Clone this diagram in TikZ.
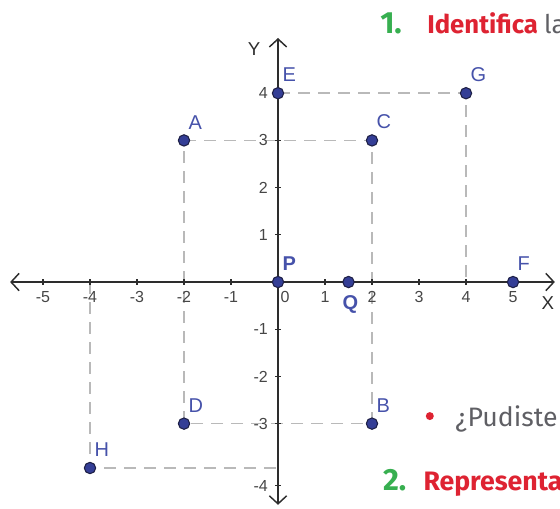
\documentclass[tikz,border=0pt]{standalone}
\usepackage{fontspec}
\setmainfont{Liberation Sans}
\newfontfamily\firafont{Fira Sans}
\usetikzlibrary{arrows.meta, positioning, backgrounds}
\definecolor{ptBlue}{RGB}{52,62,150}
\definecolor{ptEdge}{RGB}{30,32,70}
\definecolor{lblBlue}{RGB}{70,82,170}
\definecolor{guideGrey}{RGB}{185,185,185}
\definecolor{axisGrey}{RGB}{45,45,45}
\definecolor{tickGrey}{RGB}{70,70,70}
\definecolor{taskRed}{RGB}{222,35,50}
\definecolor{taskGreen}{RGB}{55,175,80}
\definecolor{askGrey}{RGB}{95,95,100}

\begin{document}
\begin{tikzpicture}[x=35.25pt, y=35.4pt,
    dot/.style={circle, draw=ptEdge, fill=ptBlue, line width=0.8pt, inner sep=0pt, minimum size=8.5pt},
    lbl/.style={text=lblBlue, inner sep=0pt, font=\fontsize{15}{15}\selectfont},
    tag/.style={label={[lbl, yshift=5pt]above right:#1}},
    guide/.style={draw=guideGrey, line width=1.2pt, dash pattern=on 9pt off 6pt},
    axis/.style={draw=axisGrey, line width=1.1pt,
      {Straight Barb[length=6pt,width=13pt]}-{Straight Barb[length=6pt,width=13pt]}},
    num/.style={text=tickGrey, inner sep=0pt, font=\fontsize{12}{12}\selectfont},
    task/.style={inner sep=0pt, anchor=base west, font=\firafont\fontsize{20}{20}\selectfont}]
    \path[use as bounding box, clip] (-5.915,-4.788) rectangle (6.0,5.975);
    % axes
    \coordinate (xl) at (-5.70,0);
    \coordinate (xr) at (5.89,0);
    \coordinate (yb) at (0,-4.72);
    \coordinate (yt) at (0,5.17);
    \draw[axis] (xl) -- (xr);
    \draw[axis] (yb) -- (yt);
    \foreach \x in {-5,-4,-3,-2,-1,1,2,3,4,5}{
      \draw[axisGrey, line width=0.8pt] (\x,0) ++(0,-2pt) -- ++(0,4pt);
      \node[num, below] (nx\x) at (\x,-0.2) {\x};
    }
    \node[num, below] (nx0) at (0.15,-0.2) {0};
    \foreach \y in {-3,-2,-1,1,2,3,4}{
      \draw[axisGrey, line width=0.8pt] (0,\y) ++(-2pt,0) -- ++(4pt,0);
      \node[num, left] (ny\y) at (-0.21,\y) {\y};
    }
    \draw[axisGrey, line width=0.8pt] (0,-4.32) ++(-2pt,0) -- ++(4pt,0);
    \node[num, left] (ny-4) at (-0.21,-4.32) {-4};
    \node[text=axisGrey, inner sep=0pt, font=\fontsize{14}{14}\selectfont] (ylab) at (-0.51,4.94) {Y};
    \node[text=axisGrey, inner sep=0pt, font=\fontsize{14}{14}\selectfont] (xlab) at (5.74,-0.44) {X};
    % points
    \node[dot, tag=A] (A) at (-2,3) {};
    \node[dot, tag=C] (C) at (2,3) {};
    \node[dot, tag=E] (E) at (0,4) {};
    \node[dot, tag=G] (G) at (4,4) {};
    \node[dot, tag=F] (F) at (5,0) {};
    \node[dot, tag=D] (D) at (-2,-3) {};
    \node[dot, tag=B] (B) at (2,-3) {};
    \node[dot, tag=H] (H) at (-4,-3.94) {};
    \node[dot, label={[lbl, yshift=5pt, font=\bfseries\fontsize{15}{15}\selectfont]above right:P}] (P) at (0,0) {};
    \node[dot, label={[lbl, label distance=5pt, xshift=1.5pt, font=\bfseries\fontsize{15}{15}\selectfont]below:Q}] (Q) at (1.5,0) {};
    % guides
    \begin{scope}[on background layer]
      \draw[guide] (A.center) -- (C.center) -- (B.center) -- (D.center) -- cycle;
      \draw[guide] (E.center) -- (G.center) -- (G |- P);
      \draw[guide] (H |- P) -- (H.center) -- (H -| P);
    \end{scope}
    % side text
    \node[task, text=taskGreen, font=\firafont\bfseries\fontsize{23}{23}\selectfont] (num1) at (2.17,5.275) {1.};
    \node[task, text=taskRed, font=\firafont\fontsize{19.3}{20}\selectfont] (task1) at (3.17,5.275) {\bfseries Identifica \textcolor{askGrey}{\mdseries la}};
    \node[circle, fill=taskRed, inner sep=0pt, minimum size=6pt] (bullet) at (3.23,-2.84) {};
    \node[task, text=askGrey] (ask) at (3.77,-3.07) {¿Pudiste};
    \node[task, text=taskGreen, font=\firafont\bfseries\fontsize{23}{23}\selectfont] (num2) at (2.23,-4.41) {2.};
    \node[task, text=taskRed] (task2) at (3.09,-4.41) {\bfseries Representa};
\end{tikzpicture}
\end{document}
